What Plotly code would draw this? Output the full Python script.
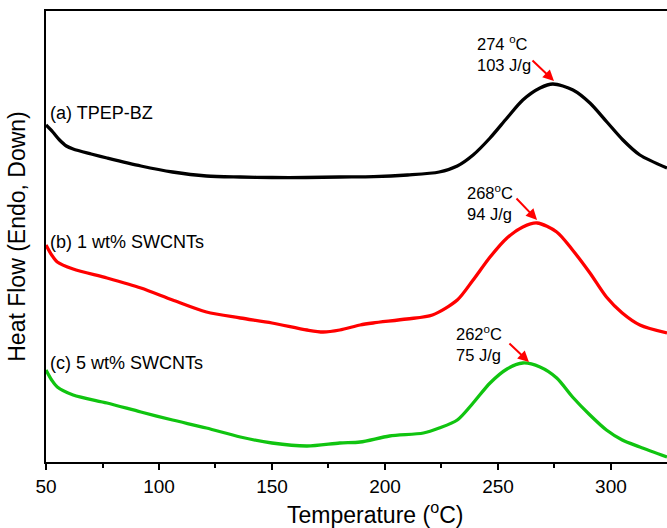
import plotly.graph_objects as go

# Temperature (°C) and heat-flow values (arbitrary units, stacked/offset)
temp_a = [50, 53, 56, 59, 62, 70, 77, 92, 106, 121, 136, 150, 165, 180, 195, 210, 224, 232, 239, 246.5, 254, 261, 268.6, 274.3, 283.2, 290.7, 298.2, 305.3, 312.8, 324.8]
flow_a = [337, 330, 322, 316, 313, 308, 304, 296, 290, 286, 285, 284.5, 284.5, 285, 285.3, 287, 290, 296, 307, 324, 344, 362, 374, 378, 372, 359, 340, 322, 307, 294]

temp_b = [50, 52.5, 55, 62, 77, 92, 106, 121, 136, 150, 165.5, 172.6, 180, 189, 194.7, 209.7, 221, 232, 239, 246.5, 254, 261, 267.3, 276, 283, 290.7, 298, 305, 312.8, 324.8]
flow_b = [217, 207, 200, 193, 184, 174, 162, 150, 144, 139, 132, 130, 132, 137, 139, 143, 147, 162, 182, 205, 224, 235, 239, 230, 212, 189, 165, 149, 137, 129]

temp_c = [50, 52.5, 55, 62, 77, 92, 106, 121, 136, 150, 165.5, 180, 189, 202, 217, 224, 232, 239, 246.5, 254, 261, 268.6, 276, 283, 290.7, 298, 305, 312.8, 324.8]
flow_c = [92, 82, 75, 67, 59, 50, 42, 34, 25, 19, 16, 19, 20, 26, 29, 34, 42, 59, 79, 93, 99, 95, 84, 65, 47, 32, 22, 15, 5]

series_labels = ["(a) TPEP-BZ", "(b) 1 wt% SWCNTs", "(c) 5 wt% SWCNTs"]
series_colors = ["#000000", "#ff0000", "#10c410"]
label_y = [349, 220, 99]

peak_text = ["274 <sup>o</sup>C<br>103 J/g", "268<sup>o</sup>C<br>94 J/g", "262<sup>o</sup>C<br>75 J/g"]
peak_text_x = [239.8, 235.4, 230.5]
peak_text_y = [409, 259.5, 119]
arrow_tip_t = [274.8, 267.3, 263.7]
arrow_tip_v = [381, 242, 100]
arrow_tail_px = [(-23, -22), (-22, -23), (-21, -20)]

x_ticks = [50, 100, 150, 200, 250, 300]
x_minor = [75, 125, 175, 225, 275, 325]

font_family = "Liberation Sans, Arial, sans-serif"

fig = go.Figure()
for t, f, c, name in zip([temp_a, temp_b, temp_c], [flow_a, flow_b, flow_c], series_colors, series_labels):
    fig.add_trace(go.Scatter(x=t, y=f, mode="lines", name=name,
                             line=dict(color=c, width=3.3, shape="spline", smoothing=0.8),
                             showlegend=False, hoverinfo="skip"))

for name, ly in zip(series_labels, label_y):
    fig.add_annotation(x=0.003, xref="paper", y=ly, yref="y", text=name, showarrow=False,
                       xanchor="left", yanchor="middle", font=dict(size=18, color="black", family=font_family))

for txt, tx, ty in zip(peak_text, peak_text_x, peak_text_y):
    fig.add_annotation(x=tx, y=ty, xref="x", yref="y", text=txt, showarrow=False, align="left",
                       xanchor="left", yanchor="middle", font=dict(size=16.5, color="black", family=font_family))

for tipx, tipy, tail in zip(arrow_tip_t, arrow_tip_v, arrow_tail_px):
    fig.add_annotation(x=tipx, y=tipy, xref="x", yref="y", text="", showarrow=True,
                       ax=tail[0], ay=tail[1], arrowhead=2, arrowsize=1.1, arrowwidth=2,
                       arrowcolor="#ff0000")

# x-axis title (centred on the full, partly cropped, original frame)
fig.add_annotation(x=0.53, xref="paper", y=-0.112, yref="paper", text="Temperature (<sup>o</sup>C)",
                   showarrow=False, xanchor="center", yanchor="middle",
                   font=dict(size=23, color="black", family=font_family))

fig.update_layout(
    width=667, height=528,
    margin=dict(l=46, r=0, t=11, b=66),
    paper_bgcolor="white", plot_bgcolor="white",
    font=dict(family=font_family, color="black"),
    xaxis=dict(range=[50, 324.8], tickvals=x_ticks, ticktext=[str(v) for v in x_ticks],
               ticks="outside", ticklen=6, tickwidth=1.5, tickcolor="black",
               minor=dict(tickvals=x_minor, ticks="outside", ticklen=4,
                          tickwidth=1.5, tickcolor="black"),
               showline=True, linecolor="black", linewidth=2, mirror=True,
               showgrid=False, zeroline=False, tickfont=dict(size=19)),
    yaxis=dict(range=[0, 451], showticklabels=False, ticks="", showgrid=False, zeroline=False,
               showline=True, linecolor="black", linewidth=2,
               title=dict(text="Heat Flow (Endo, Down)", font=dict(size=23), standoff=12)),
)

fig.write_html("out.html")
